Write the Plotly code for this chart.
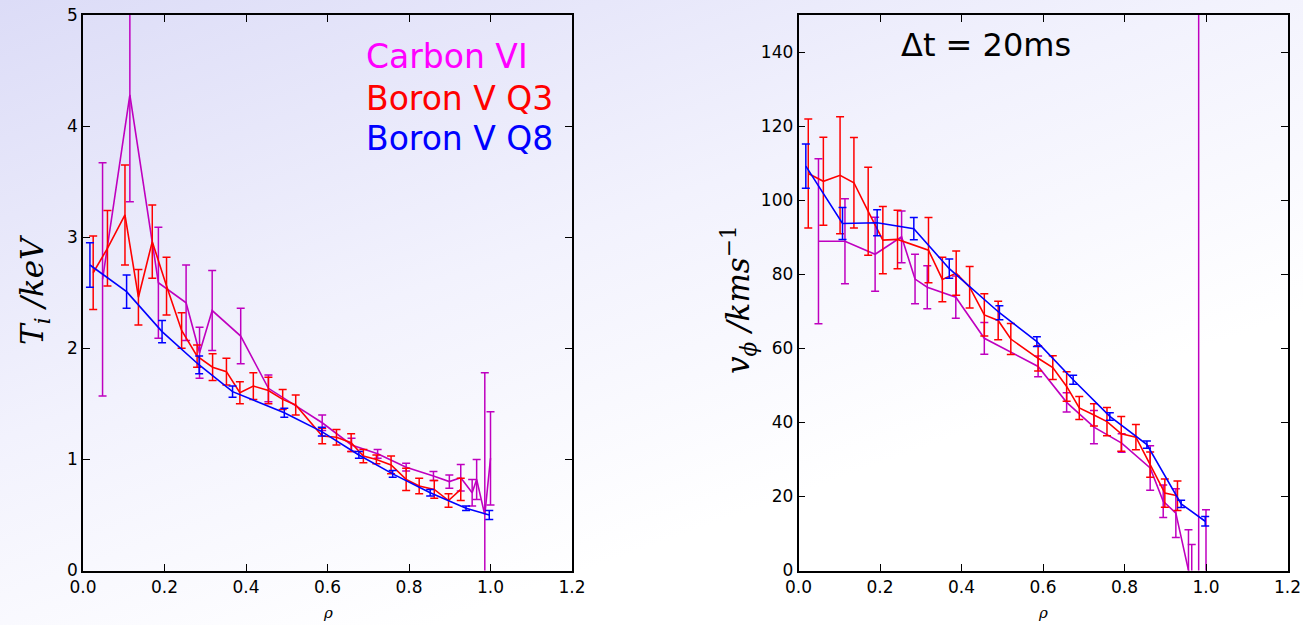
import base64
import plotly.graph_objects as go

# ---------------- data: left panel (T_i / keV) ----------------
c6_rho_T = [0.048, 0.115, 0.185, 0.253, 0.286, 0.317, 0.387, 0.455, 0.587, 0.659,
            0.723, 0.793, 0.86, 0.899, 0.927, 0.955, 0.966, 0.986, 1.0]
c6_T = [2.62, 4.28, 2.59, 2.41, 1.96, 2.34, 2.11, 1.64, 1.33, 1.13,
        1.05, 0.93, 0.85, 0.80, 0.835, 0.70, 0.82, 0.50, 1.01]
c6_T_err = [1.05, 0.96, 0.5, 0.34, 0.23, 0.36, 0.25, 0.12, 0.07, 0.06,
            0.04, 0.035, 0.04, 0.06, 0.12, 0.12, 0.18, 1.28, 0.42]

q3_rho_T = [0.025, 0.06, 0.103, 0.136, 0.17, 0.205, 0.242, 0.28, 0.318, 0.352,
            0.385, 0.418, 0.455, 0.49, 0.522, 0.587, 0.622, 0.658, 0.688, 0.72,
            0.756, 0.793, 0.825, 0.862, 0.897, 0.927]
q3_T = [2.68, 2.9, 3.2, 2.46, 2.96, 2.56, 2.16, 1.93, 1.83, 1.79,
        1.6, 1.66, 1.62, 1.54, 1.49, 1.21, 1.2, 1.15, 1.03, 1.0,
        0.95, 0.82, 0.76, 0.73, 0.63, 0.73]
q3_T_err = [0.33, 0.34, 0.45, 0.25, 0.33, 0.26, 0.16, 0.1, 0.12, 0.12,
            0.1, 0.12, 0.12, 0.09, 0.09, 0.07, 0.07, 0.08, 0.06, 0.04,
            0.08, 0.1, 0.07, 0.08, 0.06, 0.1]

q8_rho_T = [0.017, 0.107, 0.194, 0.285, 0.367, 0.494, 0.586, 0.677, 0.76, 0.852, 0.94, 0.997]
q8_T = [2.75, 2.51, 2.15, 1.85, 1.61, 1.42, 1.25, 1.04, 0.87, 0.70, 0.56, 0.50]
q8_T_err = [0.2, 0.15, 0.1, 0.08, 0.05, 0.04, 0.04, 0.03, 0.03, 0.03, 0.02, 0.04]

# ---------------- data: right panel (v_phi / km s^-1) ----------------
c6_rho_v = [0.049, 0.114, 0.188, 0.253, 0.286, 0.316, 0.386, 0.456, 0.588, 0.658,
            0.725, 0.793, 0.863, 0.895, 0.926, 0.957, 0.965, 0.982, 1.0]
c6_v = [88.9, 88.9, 85.4, 90.1, 78.7, 76.5, 73.8, 62.7, 55.1, 45.4,
        38.7, 34.4, 27.7, 18.7, 15.5, 0.0, -1.0, -20.0, -5.0]
c6_v_err = [22.3, 11.5, 10, 7, 6.7, 5.8, 5.7, 4.3, 2.8, 2.6,
            4.5, 2.5, 6, 4.4, 6.6, 11, 8, 300, 21.4]

q3_rho_v = [0.024, 0.061, 0.102, 0.136, 0.171, 0.207, 0.243, 0.319, 0.353, 0.387,
            0.42, 0.456, 0.49, 0.521, 0.588, 0.624, 0.658, 0.689, 0.725, 0.757,
            0.792, 0.828, 0.863, 0.899, 0.93]
q3_v = [107.2, 105.1, 106.7, 104.7, 97.0, 89.2, 89.4, 86.5, 78.6, 80.3,
        76.5, 69.0, 67.5, 62.5, 57.3, 54.8, 49.7, 43.9, 42.0, 40.2,
        36.9, 36.0, 28.6, 20.9, 20.2]
q3_v_err = [14.7, 11.9, 15.8, 12.2, 11.9, 9.1, 7.9, 8.8, 6, 6,
            5.6, 5.7, 5.2, 4.2, 3.4, 3.2, 4, 3.1, 3, 3.8,
            4.7, 3.4, 3.4, 3.8, 4]

q8_rho_v = [0.018, 0.108, 0.193, 0.283, 0.37, 0.493, 0.585, 0.674, 0.764, 0.855, 0.939, 0.998]
q8_v = [109.2, 93.7, 93.9, 92.3, 81.5, 69.6, 61.8, 51.5, 41.6, 34.0, 18.0, 13.3]
q8_v_err = [6, 4.3, 3.5, 3, 2.6, 1.9, 1.3, 1.2, 1.0, 1.0, 1.0, 1.3]

x_ticks = [0.0, 0.2, 0.4, 0.6, 0.8, 1.0, 1.2]
x_tick_labels = ["0.0", "0.2", "0.4", "0.6", "0.8", "1.0", "1.2"]
T_ticks = [0, 1, 2, 3, 4, 5]
v_ticks = [0, 20, 40, 60, 80, 100, 120, 140]

C_PURPLE = "#bf00bf"
C_RED = "#ff0000"
C_BLUE = "#0000ff"

W, H = 1303, 625

fig = go.Figure()


def add_series(x, y, err, color, xa, ya):
    fig.add_trace(go.Scatter(
        x=x, y=y, mode="lines", xaxis=xa, yaxis=ya,
        line=dict(color=color, width=1.6),
        error_y=dict(type="data", array=err, visible=True, color=color,
                     thickness=1.5, width=4),
        showlegend=False, hoverinfo="skip"))


add_series(c6_rho_T, c6_T, c6_T_err, C_PURPLE, "x", "y")
add_series(q3_rho_T, q3_T, q3_T_err, C_RED, "x", "y")
add_series(q8_rho_T, q8_T, q8_T_err, C_BLUE, "x", "y")

add_series(c6_rho_v, c6_v, c6_v_err, C_PURPLE, "x2", "y2")
add_series(q3_rho_v, q3_v, q3_v_err, C_RED, "x2", "y2")
add_series(q8_rho_v, q8_v, q8_v_err, C_BLUE, "x2", "y2")


def px_x(a, b):
    return [a / W, b / W]


def px_y(top, bottom):
    return [1 - bottom / H, 1 - top / H]


tick_font = dict(family="DejaVu Sans", size=17, color="black")
axis_common = dict(showline=True, linecolor="black", linewidth=1.6, mirror="ticks",
                   ticks="inside", ticklen=7, tickwidth=1.2, tickcolor="black",
                   showgrid=False, zeroline=False, tickfont=tick_font,
                   automargin=False)

fig.update_layout(
    width=W, height=H,
    margin=dict(l=0, r=0, t=0, b=0, pad=0),
    paper_bgcolor="rgba(0,0,0,0)",
    plot_bgcolor="rgba(0,0,0,0)",
    xaxis=dict(domain=px_x(83, 572), range=[0, 1.2], tickvals=x_ticks,
               ticktext=x_tick_labels, anchor="y", **axis_common),
    yaxis=dict(domain=px_y(15, 570.5), range=[0, 5], tickvals=T_ticks, anchor="x",
               **axis_common),
    xaxis2=dict(domain=px_x(798.5, 1287.5), range=[0, 1.2], tickvals=x_ticks,
                ticktext=x_tick_labels, anchor="y2", **axis_common),
    yaxis2=dict(domain=px_y(15, 570.5), range=[0, 150], tickvals=v_ticks, anchor="x2",
                **axis_common),
)

# axis titles as annotations (pixel placed)
title_font = dict(family="DejaVu Serif", size=31, color="black")
fig.add_annotation(x=34 / W, y=1 - 290 / H, xref="paper", yref="paper",
                   xanchor="center", yanchor="middle", showarrow=False, textangle=-90,
                   text="<i>T</i><sub><i>i</i></sub><i> /keV</i>", font=title_font)
fig.add_annotation(x=738 / W, y=1 - 300 / H, xref="paper", yref="paper",
                   xanchor="center", yanchor="middle", showarrow=False, textangle=-90,
                   text="<i>v</i><sub><i>ϕ</i></sub><i> /kms</i><sup>−1</sup>", font=title_font)
rho_font = dict(family="DejaVu Serif", size=15, color="black")
for cx in (328, 1043):
    fig.add_annotation(x=cx / W, y=1 - 613 / H, xref="paper", yref="paper",
                       xanchor="center", yanchor="middle", showarrow=False,
                       text="<i>ρ</i>", font=rho_font)

legend_items = [("Carbon VI", "#ff00ff", 57), ("Boron V Q3", "#ff0000", 98), ("Boron V Q8", "#0000ff", 138)]
for txt, col, yc in legend_items:
    fig.add_annotation(x=364 / W, y=1 - yc / H, xref="paper", yref="paper",
                       xanchor="left", yanchor="middle", showarrow=False,
                       text=txt, font=dict(family="DejaVu Sans", size=33, color=col))

fig.add_annotation(x=899 / W, y=1 - 45 / H, xref="paper", yref="paper",
                   xanchor="left", yanchor="middle", showarrow=False,
                   text="Δt = 20ms", font=dict(family="DejaVu Sans", size=32, color="black"))

# soft lavender-to-white background gradient
svg = (
    '<svg xmlns="http://www.w3.org/2000/svg" width="1303" height="625">'
    '<defs><linearGradient id="g" x1="0" y1="0" x2="0.75" y2="1">'
    '<stop offset="0" stop-color="#dcdcf7"/>'
    '<stop offset="0.45" stop-color="#f2f2fd"/>'
    '<stop offset="0.8" stop-color="#ffffff"/>'
    '<stop offset="1" stop-color="#ffffff"/>'
    '</linearGradient></defs>'
    '<rect width="1303" height="625" fill="url(#g)"/></svg>'
)
src = "data:image/svg+xml;base64," + base64.b64encode(svg.encode()).decode()
fig.add_layout_image(dict(source=src, xref="paper", yref="paper", x=0, y=1,
                          sizex=1, sizey=1, sizing="stretch", layer="below",
                          xanchor="left", yanchor="top"))

fig.write_html(
    "out.html",
    config={"displayModeBar": False},
    post_script="document.body.style.margin='0';document.body.style.overflow='hidden';",
)
